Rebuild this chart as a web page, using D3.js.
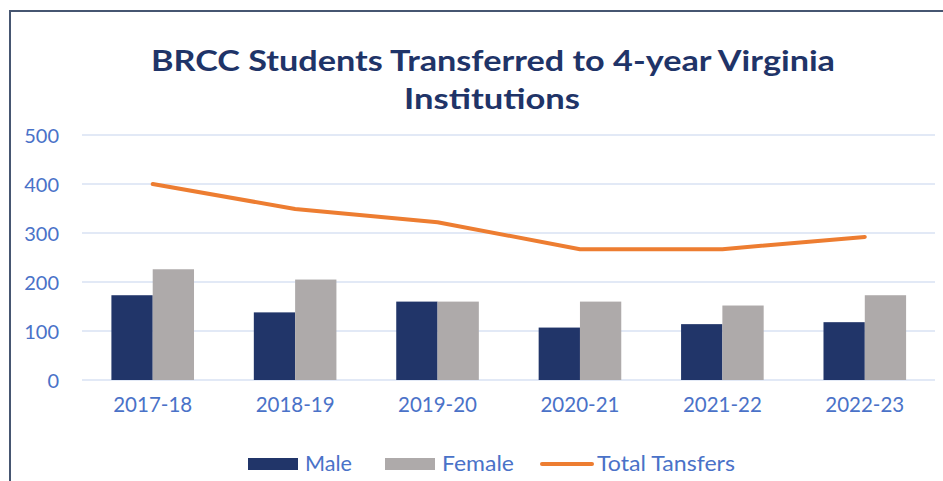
<!DOCTYPE html>
<html><head><meta charset="utf-8">
<script src="https://cdn.jsdelivr.net/npm/d3@7"></script>
<style>
html,body{margin:0;padding:0;background:#fff;}
svg{display:block;}
text{font-family:Lato,"Open Sans",sans-serif;}
</style></head>
<body>
<svg id="chart" width="943" height="481"></svg>
<script>
const categories = ["2017-18","2018-19","2019-20","2020-21","2021-22","2022-23"];
const male = [173,138,160,107,114,118];
const female = [226,205,160,160,152,173];
const total = [400,349,322,267,267,292];
const yTicks = [0,100,200,300,400,500];
const seriesNames = ["Male","Female","Total Tansfers"];
const titleLines = ["BRCC Students Transferred to 4-year Virginia","Institutions"];

const colors = {male:"#213569", female:"#aeaaaa", line:"#ed7d31", text:"#4a72c8", title:"#1f3468", grid:"#d9e2f3", border:"#465671"};

const svg = d3.select("#chart");

// border
svg.append("line").attr("x1",10).attr("x2",943).attr("y1",11).attr("y2",11).attr("stroke",colors.border).attr("stroke-width",2);
svg.append("line").attr("x1",10).attr("x2",10).attr("y1",10).attr("y2",481).attr("stroke",colors.border).attr("stroke-width",2);

// title
const tfs = 29;
svg.append("text").attr("x",151).attr("y",71)
  .attr("fill",colors.title).attr("font-weight",700).attr("font-size",tfs)
  .attr("textLength",684).attr("lengthAdjust","spacingAndGlyphs").text(titleLines[0]);
svg.append("text").attr("x",404).attr("y",109)
  .attr("fill",colors.title).attr("font-weight",700).attr("font-size",tfs)
  .attr("textLength",176).attr("lengthAdjust","spacingAndGlyphs").text(titleLines[1]);

const x = d3.scaleBand().domain(categories).range([81.5,936]).paddingInner(0.42).paddingOuter(0.21);
const y = d3.scaleLinear().domain([0,500]).range([380,135]);

// grid
svg.append("g").selectAll("line").data(yTicks).join("line")
  .attr("x1",82).attr("x2",935).attr("y1",d=>y(d)).attr("y2",d=>y(d))
  .attr("stroke",colors.grid).attr("stroke-width",1.5);

// y axis
const yAxis = svg.append("g").attr("transform","translate(59,0)")
  .call(d3.axisLeft(y).tickValues(yTicks).tickSize(0).tickPadding(0));
yAxis.select(".domain").remove();
yAxis.selectAll("text").attr("fill",colors.text).attr("font-size",20).attr("font-family","Lato, sans-serif").attr("dy","0.36em");

// x axis
const xAxis = svg.append("g").attr("transform","translate(0,380)")
  .call(d3.axisBottom(x).tickSize(0).tickPadding(17));
xAxis.select(".domain").remove();
xAxis.selectAll("text").attr("fill",colors.text).attr("font-size",20.5).attr("font-family","Lato, sans-serif");

// bars
const sub = d3.scaleBand().domain(["m","f"]).range([0,x.bandwidth()]);
const g = svg.append("g");
g.selectAll("rect.m").data(categories).join("rect").attr("class","m")
  .attr("x",d=>x(d)+sub("m")).attr("width",sub.bandwidth())
  .attr("y",(d,i)=>y(male[i])).attr("height",(d,i)=>y(0)-y(male[i])).attr("fill",colors.male);
g.selectAll("rect.f").data(categories).join("rect").attr("class","f")
  .attr("x",d=>x(d)+sub("f")).attr("width",sub.bandwidth())
  .attr("y",(d,i)=>y(female[i])).attr("height",(d,i)=>y(0)-y(female[i])).attr("fill",colors.female);

// line
const line = d3.line().x((d,i)=>x(categories[i])+x.bandwidth()/2).y(d=>y(d));
svg.append("path").datum(total).attr("d",line).attr("fill","none")
  .attr("stroke",colors.line).attr("stroke-width",4).attr("stroke-linejoin","round").attr("stroke-linecap","round");

// legend
const leg = svg.append("g");
const ly = 464;
const items = [
  {name:seriesNames[0], x:248, type:"rect", color:colors.male, tw:47},
  {name:seriesNames[1], x:385, type:"rect", color:colors.female, tw:72},
  {name:seriesNames[2], x:540, type:"line", color:colors.line, tw:138}
];
items.forEach(it=>{
  if(it.type==="rect"){
    leg.append("rect").attr("x",it.x).attr("y",ly-6).attr("width",50).attr("height",12).attr("fill",it.color);
  } else {
    leg.append("line").attr("x1",it.x+2).attr("x2",it.x+52).attr("y1",ly).attr("y2",ly)
      .attr("stroke",it.color).attr("stroke-width",4).attr("stroke-linecap","round");
  }
  leg.append("text").attr("x",it.x+57).attr("y",ly).attr("dy","0.35em")
    .attr("fill",colors.text).attr("font-size",21)
    .attr("textLength",it.tw).attr("lengthAdjust","spacingAndGlyphs").text(it.name);
});
</script>
</body></html>
